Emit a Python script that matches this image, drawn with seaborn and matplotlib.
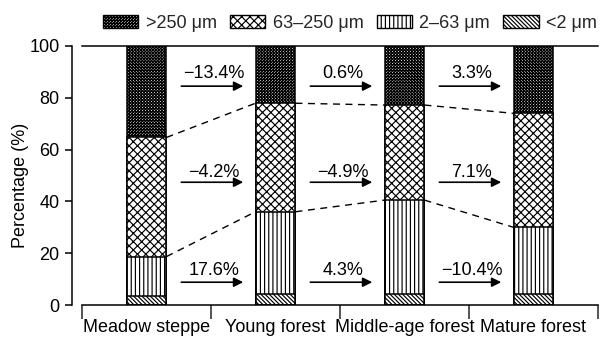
import matplotlib
matplotlib.use("Agg")
import matplotlib.pyplot as plt
import matplotlib.patches as mpatches
from matplotlib.ticker import FixedLocator
import seaborn as sns
import numpy as np

# ---------------- data ----------------
categories = ["Meadow steppe", "Young forest", "Middle-age forest", "Mature forest"]
clay = [3.5, 4.1, 4.1, 4.1]            # <2 μm
silt = [15.2, 31.9, 36.4, 25.9]        # 2–63 μm
fine_sand = [46.0, 41.9, 36.7, 44.0]   # 63–250 μm
coarse = [35.3, 22.1, 22.8, 26.0]      # >250 μm
change_coarse = ["\u221213.4%", "0.6%", "3.3%"]
change_fine = ["\u22124.2%", "\u22124.9%", "7.1%"]
change_silt = ["17.6%", "4.3%", "\u221210.4%"]
legend_labels = [">250 μm", "63–250 μm", "2–63 μm", "<2 μm"]
yticks = [0, 20, 40, 60, 80, 100]

# ---------------- style ----------------
sns.set_theme(style="ticks")
plt.rcParams["font.family"] = ["Liberation Sans", "DejaVu Sans"]
plt.rcParams["hatch.linewidth"] = 0.85
plt.rcParams["axes.linewidth"] = 1.1

fig = plt.figure(figsize=(6.03, 3.38), dpi=100)
ax = fig.add_axes([82 / 603, 1 - 305 / 338, 516 / 603, 259 / 338])

c1 = np.array(clay)
c2 = c1 + np.array(silt)
c3 = c2 + np.array(fine_sand)
c4 = c3 + np.array(coarse)

hatches = ["x" * 11, "xxxx", "||||", "\\" * 8]
bw = 0.31
for cum, h in zip([c4, c3, c2, c1], hatches):
    sns.barplot(x=categories, y=cum, color="white", edgecolor="black",
                hatch=h, width=bw, linewidth=1.1, saturation=1, ax=ax)

# dashed connectors
for i in range(3):
    for cum in (c3, c2):
        ax.plot([i + bw / 2, i + 1 - bw / 2], [cum[i], cum[i + 1]],
                color="black", lw=1.0, dashes=(5, 4))

# arrows and change labels
rows = [(change_coarse, 84.5, 89.3), (change_fine, 47.4, 51.3), (change_silt, 8.8, 13.2)]
for labels, ay, ty in rows:
    for i, lab in enumerate(labels):
        ax.annotate("", xy=(i + 0.75, ay), xytext=(i + 0.27, ay),
                    arrowprops=dict(arrowstyle="-|>", color="black", lw=1.2,
                                    mutation_scale=14, shrinkA=0, shrinkB=0))
        ax.text(i + 0.52, ty, lab, ha="center", va="center", fontsize=13, color="black")

# axes
ax.set_xlim(-0.5, 3.5)
ax.set_ylim(0, 100)
ax.set_yticks(yticks)
ax.set_yticklabels([str(t) for t in yticks])
ax.tick_params(axis="y", direction="out", length=5, width=1.1, pad=4,
               labelsize=13, colors="black")
ax.tick_params(axis="x", which="major", length=0, pad=10, labelsize=13, colors="black")
ax.xaxis.set_minor_locator(FixedLocator([-0.5, 0.5, 1.5, 2.5, 3.5]))
ax.tick_params(axis="x", which="minor", direction="out", length=10, width=1.1)
ax.set_xlabel("")
ax.set_ylabel("Percentage (%)", fontsize=13, color="black")
ax.yaxis.set_label_coords(-0.103, 0.46)

ax.spines["right"].set_visible(False)
ax.spines["left"].set_position(("outward", 7.2))
ax.spines["left"].set_bounds(0, 100)
for s in ("left", "top", "bottom"):
    ax.spines[s].set_color("black")
    ax.spines[s].set_linewidth(1.1)

handles = [mpatches.Patch(facecolor="white", edgecolor="black", hatch=h, linewidth=1.0)
           for h in hatches]
fig.legend(handles, legend_labels, loc="center", ncol=4,
           bbox_to_anchor=(350 / 603, 1 - 23 / 338), frameon=False, fontsize=13,
           handlelength=1.95, handleheight=0.7, handletextpad=0.4,
           columnspacing=0.75, borderpad=0, borderaxespad=0)

fig.savefig("out.png", dpi=100)
